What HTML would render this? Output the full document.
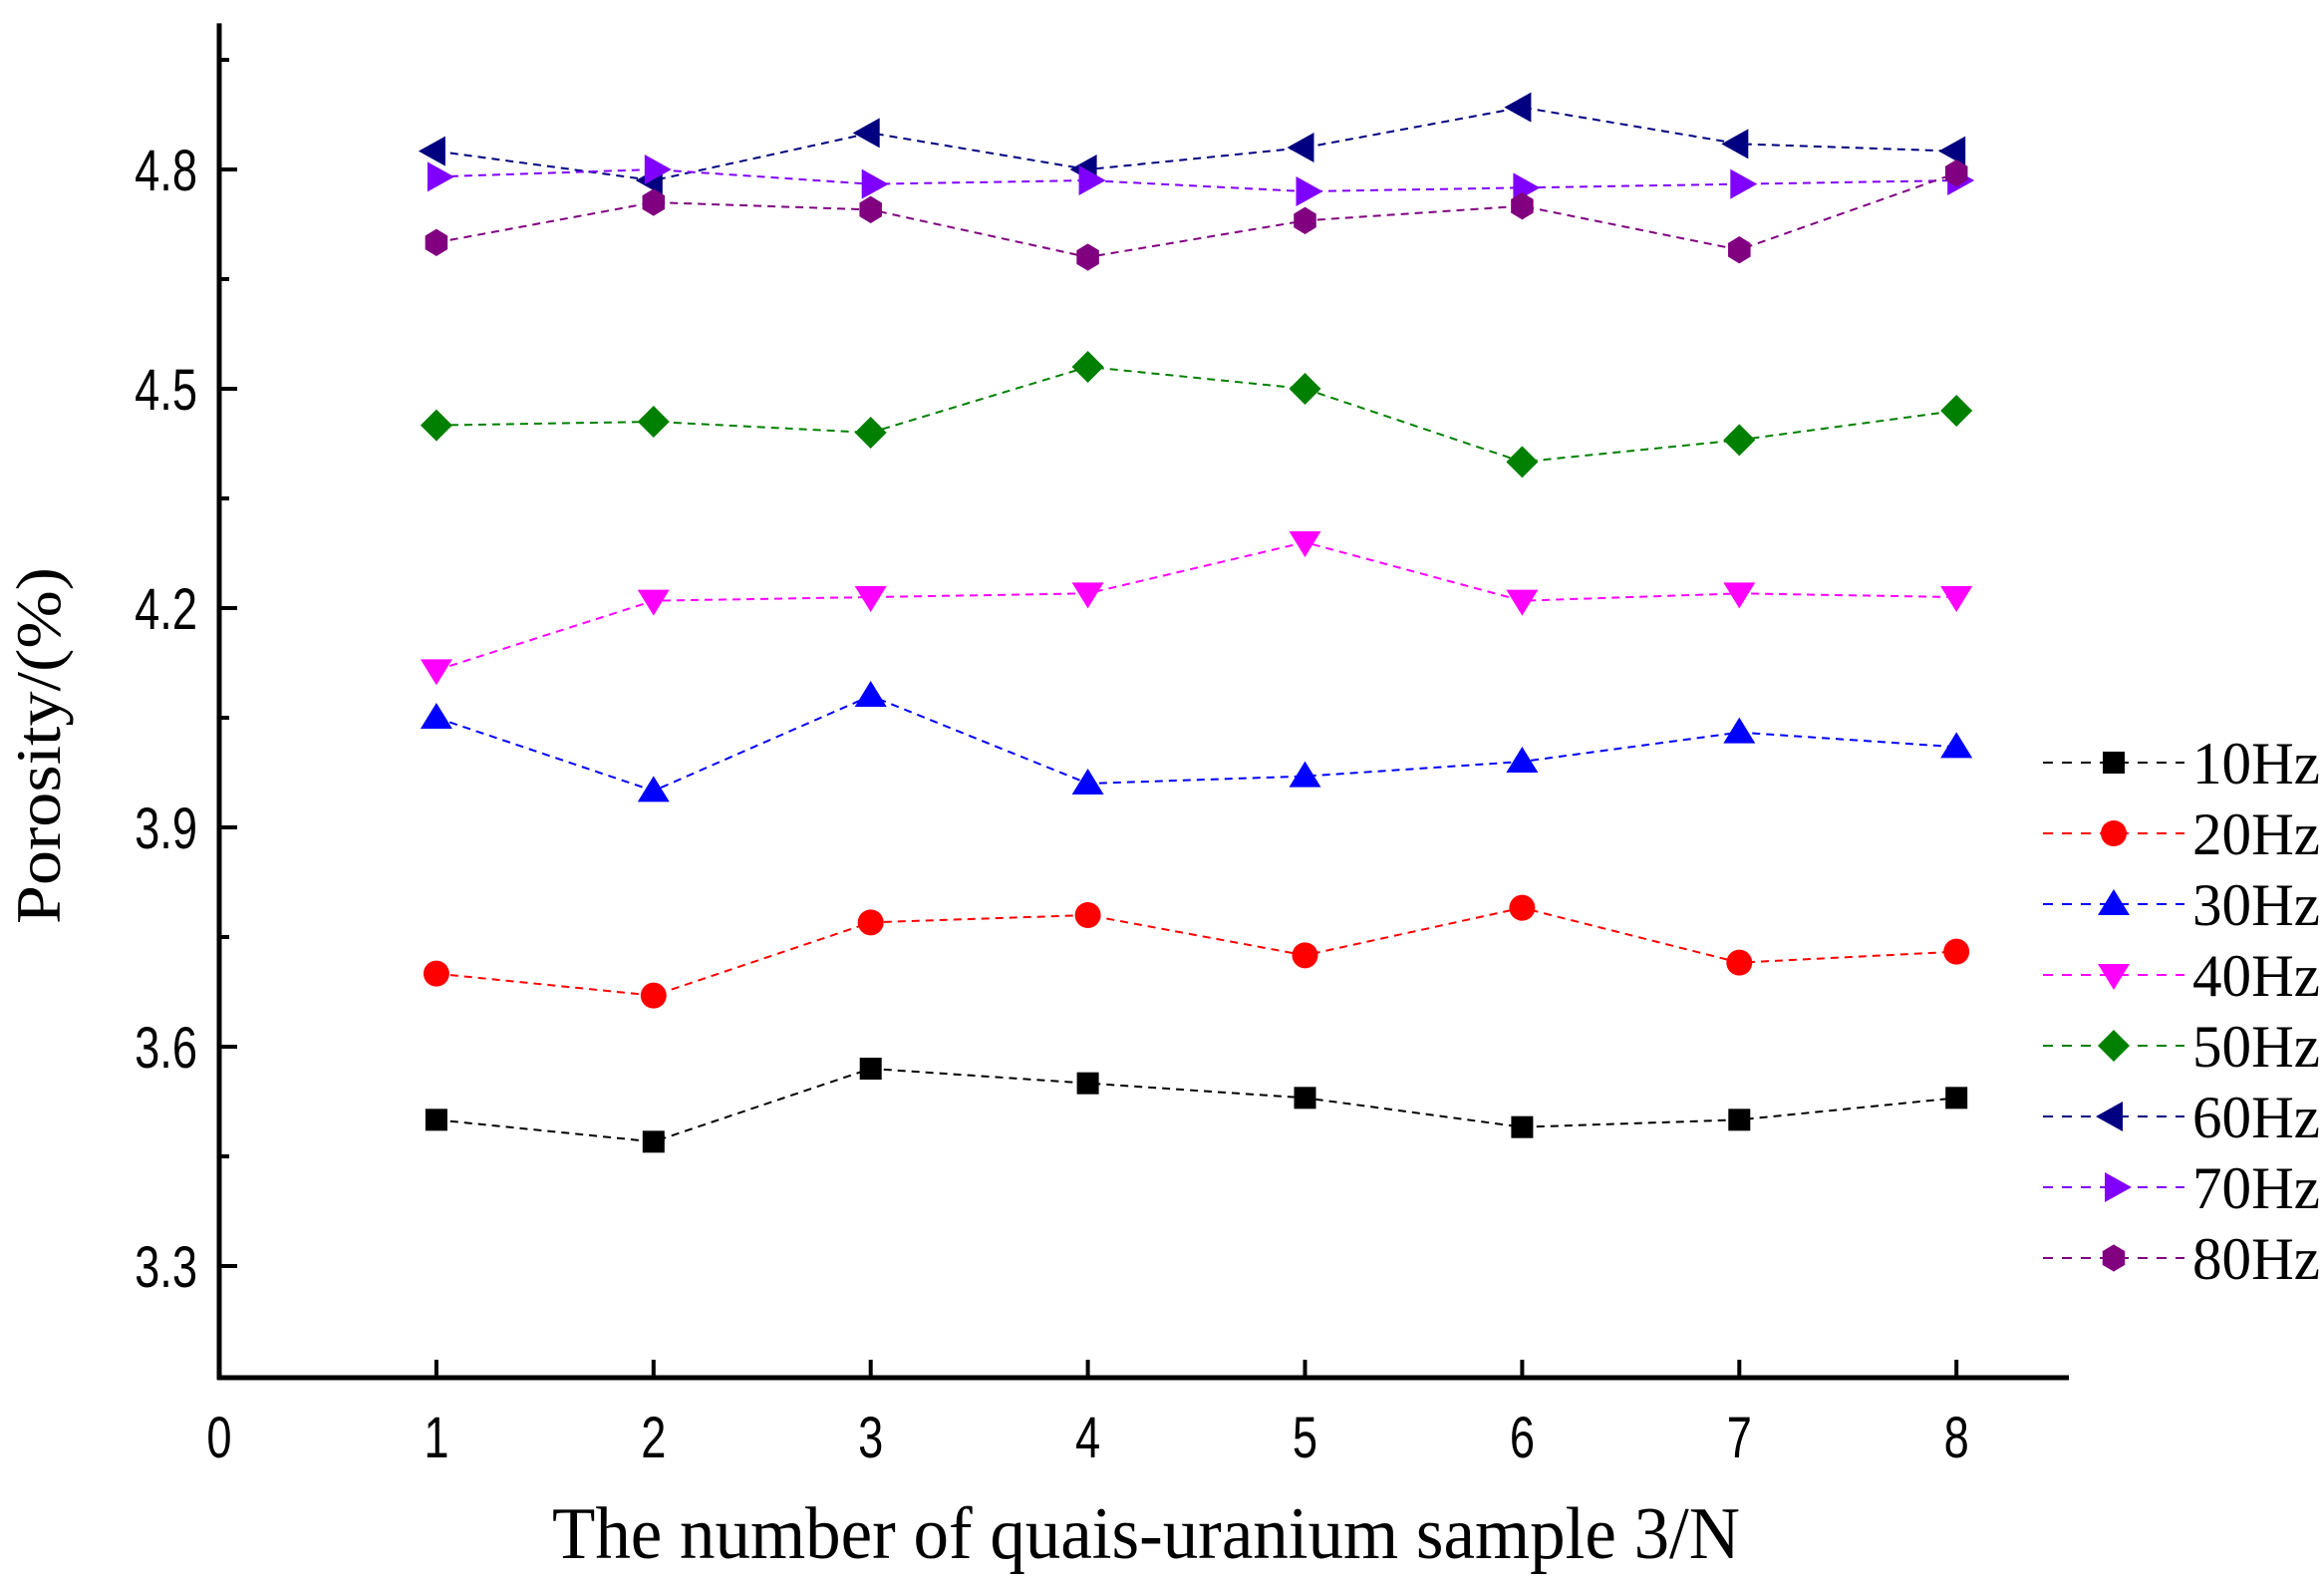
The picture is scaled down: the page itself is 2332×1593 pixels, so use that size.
<!DOCTYPE html>
<html><head><meta charset="utf-8"><style>
html,body{margin:0;padding:0;background:#fff;}
svg{display:block;}
.tk{font-family:"Liberation Sans",sans-serif;font-size:58px;fill:#000;}
.ser{font-family:"Liberation Serif",serif;fill:#000;}
</style></head><body>
<svg id="chart" width="2332" height="1593" viewBox="0 0 2332 1593" xmlns="http://www.w3.org/2000/svg">
<g id="axes"></g>
<g id="series"></g>
<g id="legend"></g>
<text class="ser" x="554" y="1563" font-size="74" textLength="1192" lengthAdjust="spacingAndGlyphs">The number of quais-uranium sample 3/N</text>
<text class="ser" transform="translate(60,748) rotate(-90)" font-size="64" text-anchor="middle" textLength="358" lengthAdjust="spacingAndGlyphs">Porosity/(%)</text>
</svg>
<script>
const categories=[1,2,3,4,5,6,7,8];
const xTicks=[0,1,2,3,4,5,6,7,8];
const yTicks=[3.3,3.6,3.9,4.2,4.5,4.8];
const seriesNames=["10Hz","20Hz","30Hz","40Hz","50Hz","60Hz","70Hz","80Hz"];
const s10=[3.50,3.47,3.57,3.55,3.53,3.49,3.50,3.53];
const s20=[3.70,3.67,3.77,3.78,3.725,3.79,3.715,3.73];
const s30=[4.05,3.95,4.08,3.96,3.97,3.99,4.03,4.01];
const s40=[4.115,4.21,4.215,4.22,4.29,4.21,4.22,4.215];
const s50=[4.45,4.455,4.44,4.53,4.50,4.40,4.43,4.47];
const s60=[4.825,4.785,4.85,4.80,4.83,4.885,4.835,4.825];
const s70=[4.79,4.80,4.78,4.785,4.77,4.775,4.78,4.785];
const s80=[4.70,4.755,4.745,4.68,4.73,4.75,4.69,4.795];
const allSeries=[s10,s20,s30,s40,s50,s60,s70,s80];
const colors=["#000000","#ff0000","#0000ff","#ff00ff","#008000","#000080","#8000ff","#800080"];
const shapes=["square","circle","up","down","diamond","left","right","hex"];

const NS="http://www.w3.org/2000/svg";
const X0=220, XU=217.9, Y48=170, YPX=220/0.3;
const xs=v=>X0+v*XU;
const ys=v=>Y48+(4.8-v)*YPX;
function mk(tag,attrs,parent){const e=document.createElementNS(NS,tag);for(const k in attrs)e.setAttribute(k,attrs[k]);parent.appendChild(e);return e;}

const axes=document.getElementById('axes');
const yTop=ys(5.0), yBot=1382;
let e=mk('line',{x1:X0,y1:yTop,x2:X0,y2:yBot+2,stroke:'#000','stroke-width':5},axes);


e=mk('line',{x1:X0-2,y1:yBot,x2:2076,y2:yBot,stroke:'#000','stroke-width':5},axes);


xTicks.forEach(t=>{
  if(t>0){const l=mk('line',{x1:xs(t),y1:yBot,x2:xs(t),y2:yBot-18,stroke:'#000','stroke-width':4},axes);
  
  }
  const tx=mk('text',{transform:'translate('+xs(t)+','+(yBot+80)+') scale(0.78,1)','text-anchor':'middle',class:'tk'},axes);tx.textContent=t;
  
  
});
yTicks.forEach(t=>{
  const l=mk('line',{x1:X0,y1:ys(t),x2:X0+18,y2:ys(t),stroke:'#000','stroke-width':4},axes);
  
  
  const m=mk('line',{x1:X0,y1:ys(t+0.15),x2:X0+10,y2:ys(t+0.15),stroke:'#000','stroke-width':4},axes);
  
  
  const tx=mk('text',{transform:'translate('+(X0-22)+','+(ys(t)+21)+') scale(0.78,1)','text-anchor':'end',class:'tk'},axes);tx.textContent=t.toFixed(1);
  
  
});

function marker(shape,cx,cy,c,parent){
  const r=13;let el;
  if(shape==='square')el=mk('rect',{x:cx-11,y:cy-11,width:22,height:22,fill:c},parent);
  else if(shape==='circle')el=mk('circle',{cx:cx,cy:cy,r:13,fill:c},parent);
  else{let p;
    if(shape==='up')p=[[cx,cy-15],[cx+16,cy+11],[cx-16,cy+11]];
    else if(shape==='down')p=[[cx,cy+15],[cx+16,cy-11],[cx-16,cy-11]];
    else if(shape==='diamond')p=[[cx,cy-16],[cx+16,cy],[cx,cy+16],[cx-16,cy]];
    else if(shape==='left')p=[[cx-18,cy],[cx+9,cy-15],[cx+9,cy+15]];
    else if(shape==='right')p=[[cx+18,cy],[cx-9,cy-15],[cx-9,cy+15]];
    else p=[0,1,2,3,4,5].map(i=>[cx+r*Math.cos(Math.PI/6+i*Math.PI/3),cy+r*1.05*Math.sin(Math.PI/6+i*Math.PI/3)]);
    el=mk('polygon',{points:p.map(q=>q.join(',')).join(' '),fill:c},parent);}
  return el;
}
const sg=document.getElementById('series');
allSeries.forEach((vals,si)=>{
  const g=mk('g',{},sg);
  
  
  const pl=mk('polyline',{points:vals.map((v,i)=>xs(categories[i])+','+ys(v)).join(' '),fill:'none',stroke:colors[si],'stroke-width':2,'stroke-dasharray':'8,6'},g);
  
  
  vals.forEach((v,i)=>{const m=marker(shapes[si],xs(categories[i]),ys(v),colors[si],g);
    
    });
});
const lg=document.getElementById('legend');
seriesNames.forEach((n,si)=>{
  const y=765+si*71;
  const g=mk('g',{},lg);
  
  
  mk('line',{x1:2050,y1:y,x2:2192,y2:y,stroke:colors[si],'stroke-width':2,'stroke-dasharray':'10,9'},g);
  marker(shapes[si],2121,y,colors[si],g);
  const t=mk('text',{x:2200,y:y+21,class:'ser','font-size':60,textLength:128,lengthAdjust:'spacingAndGlyphs'},g);t.textContent=n;
});
</script>
</body></html>
